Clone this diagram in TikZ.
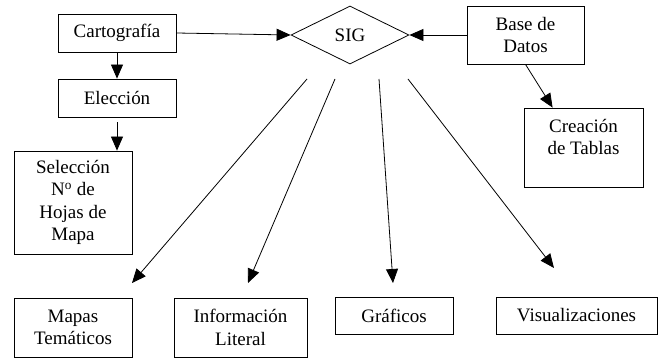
\documentclass[tikz,border=0pt]{standalone}
\usepackage{fontspec}
\setmainfont{Liberation Serif}
\usetikzlibrary{shapes.geometric,arrows.meta}
\begin{document}
\begin{tikzpicture}[x=1pt, y=-1pt, >={Triangle[length=14pt,width=12pt]}, line width=.8pt,
  caja/.style={draw, rectangle, inner sep=0pt, align=center, font=\fontsize{19}{22.5}\selectfont}]
\useasboundingbox (0,0) rectangle (665,358);

\node[caja, minimum width=118pt, minimum height=38pt] (carto) at (117,33) {Cartografía};
\node[caja, minimum width=118pt, minimum height=38pt] (elec) at (117,98) {Elección};
\node[caja, minimum width=118pt, minimum height=103pt] (sel) at (73,202.5) {Selección\\N\textsuperscript{o} de\\Hojas de\\Mapa};
\node[caja, diamond, aspect=2, minimum width=118pt, minimum height=58pt] (sig) at (350,35) {SIG};
\node[caja, minimum width=117pt, minimum height=58pt] (base) at (525.5,35) {Base de\\Datos};
\node[caja, minimum width=119pt, minimum height=79pt] (tablas) at (583.5,147.5)
  {\parbox[c][79pt][t]{117pt}{\vspace*{11pt}\centering Creación\\de Tablas}};

\node[caja, minimum width=118pt, minimum height=59pt] (mapas) at (73,327.5) {Mapas\\Temáticos};
\node[caja, minimum width=133pt, minimum height=59pt] (info) at (240.5,327.5) {Información\\Literal};
\node[caja, minimum width=118pt, minimum height=37pt] (graf) at (394,315.5) {Gráficos};
\node[caja, minimum width=161pt, minimum height=37pt] (visu) at (576.5,315.5) {Visualizaciones};

\draw[->](carto.south)--(elec.north);
\draw[->, shorten <=5pt](elec.south)--(elec.south |- sel.north);
\draw[->](carto.east)--(sig.west);
\draw[->](base.west)--(sig.east);
\draw[->](base.south)--([xshift=29pt]tablas.north west);

% salidas del SIG
\coordinate (m1) at (307,79);  \coordinate (m2) at (132,283);
\coordinate (i1) at (335,79);  \coordinate (i2) at (248,283);
\coordinate (g1) at (379,79);  \coordinate (g2) at (393,283);
\coordinate (v1) at (408,79);  \coordinate (v2) at (554,268);
\foreach \a/\b in {m1/m2, i1/i2, g1/g2, v1/v2}
{
    \draw[->](\a)--(\b);
}

\end{tikzpicture}
\end{document}
